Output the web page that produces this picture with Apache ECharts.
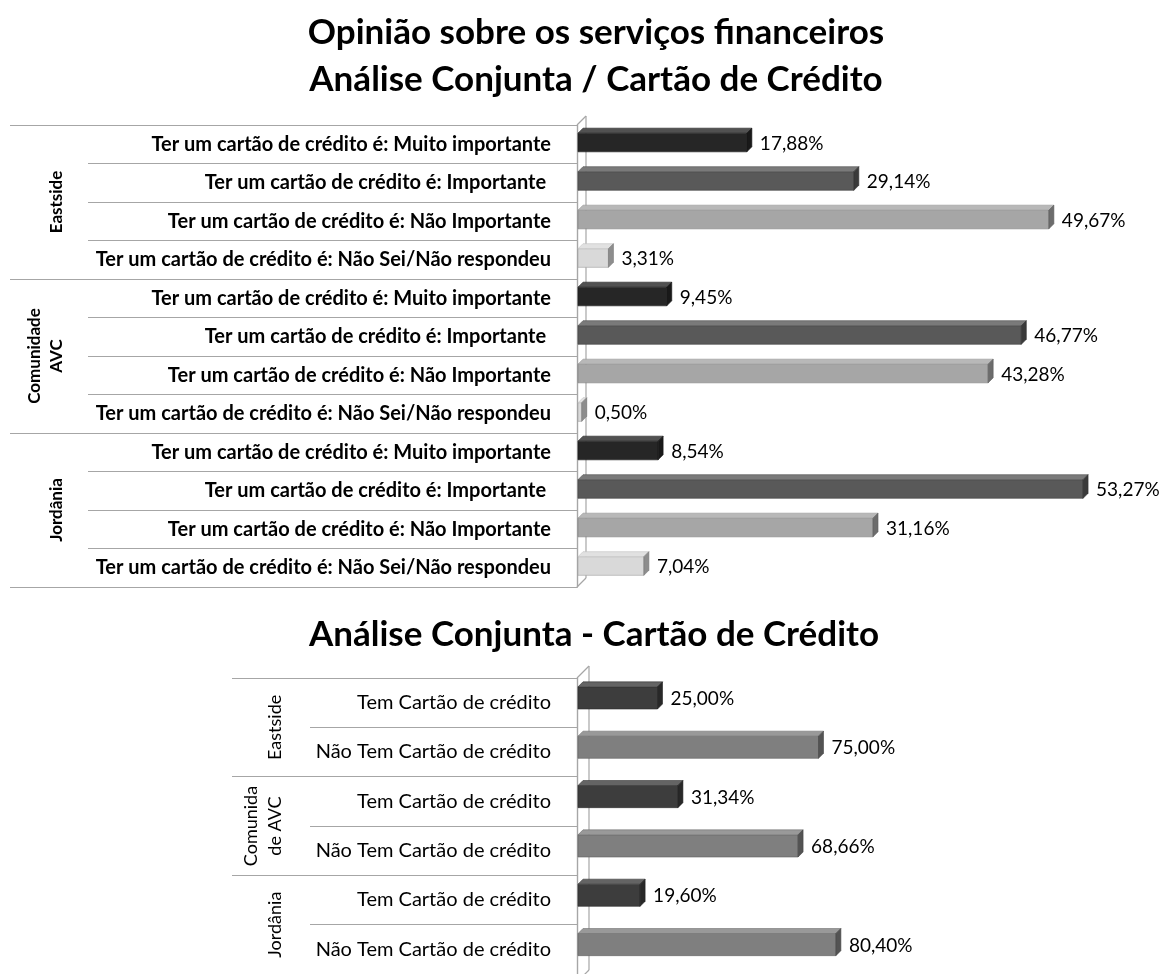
<!DOCTYPE html>
<html>
<head>
    <meta charset="utf-8">
    <title>Análise Conjunta - Cartão de Crédito</title>
    <script src="https://cdn.jsdelivr.net/npm/echarts@6/dist/echarts.min.js"></script>
    <style>
        html, body { margin: 0; padding: 0; background: #fff; }
        #chart1 { width: 1164px; height: 974px; }
    </style>
</head>
<body>
<div id="chart1"></div>
<script type="text/javascript">
    // dados do gráfico de cima
    var opinioes = ['Ter um cartão de crédito é: Muito importante', 'Ter um cartão de crédito é: Importante ',
        'Ter um cartão de crédito é: Não Importante', 'Ter um cartão de crédito é: Não Sei/Não respondeu'];
    var grupos = ['Eastside', 'Comunidade\nAVC', 'Jordânia'];
    var opiniaoValores = [17.88, 29.14, 49.67, 3.31, 9.45, 46.77, 43.28, 0.50, 8.54, 53.27, 31.16, 7.04];

    // dados do gráfico de baixo
    var posse = ['Tem Cartão de crédito', 'Não Tem Cartão de crédito'];
    var grupos2 = ['Eastside', 'Comunida\nde AVC', 'Jordânia'];
    var posseValores = [25.00, 75.00, 31.34, 68.66, 19.60, 80.40];

    var cores1 = ['#262626', '#595959', '#a6a6a6', '#d9d9d9'];
    var cores2 = ['#3d3d3d', '#7f7f7f'];

    var cat1 = [], cat2 = [];
    grupos.forEach(function () { cat1 = cat1.concat(opinioes); });
    grupos2.forEach(function () { cat2 = cat2.concat(posse); });

    function fmt(v) { return v.toFixed(2).replace('.', ',') + '%'; }

    function shade(hex, k) {
        var n = parseInt(hex.slice(1), 16);
        var r = (n >> 16) & 255, g = (n >> 8) & 255, b = n & 255;
        function f(c) { return Math.max(0, Math.min(255, Math.round(k > 0 ? c + (255 - c) * k : c * (1 + k)))); }
        return 'rgb(' + f(r) + ',' + f(g) + ',' + f(b) + ')';
    }

    // barra "3D" estilo Excel
    function barra3d(cores, ratio, d, sobe) {
        return function (params, api) {
            var v = api.value(0), c = api.value(1);
            var p0 = api.coord([0, c]), p1 = api.coord([v, c]);
            var h = api.size([0, 1])[1] * ratio;
            var x0 = p0[0] + 1, x1 = Math.max(p1[0], x0 + 1);
            var yT = p0[1] - h / 2 + d / 2 - sobe, yB = yT + h - d / 2;
            var cor = cores[params.dataIndex % cores.length];
            return {
                type: 'group',
                children: [
                    { type: 'rect', shape: { x: x0, y: yT, width: x1 - x0, height: yB - yT },
                      style: { fill: cor, stroke: shade(cor, -0.25), lineWidth: 0.6 } },
                    { type: 'polygon', shape: { points: [[x0, yT], [x0 + d, yT - d], [x1 + d, yT - d], [x1, yT]] },
                      style: { fill: shade(cor, 0.2), stroke: shade(cor, -0.1), lineWidth: 0.6 } },
                    { type: 'polygon', shape: { points: [[x1, yT], [x1 + d, yT - d], [x1 + d, yB - d], [x1, yB]] },
                      style: { fill: shade(cor, -0.35), stroke: shade(cor, -0.45), lineWidth: 0.6 } },
                    { type: 'text', x: x1 + d + 8, y: (yT + yB) / 2 + 1,
                      style: { text: fmt(v), fill: '#000', font: '19px Lato', verticalAlign: 'middle' } }
                ]
            };
        };
    }

    var L = 577;
    var g1 = { top: 125, height: 462, width: 570 };
    var g2 = { top: 678, height: 304, width: 322 };

    function parede(top, height, d) {
        var s = { stroke: '#a6a6a6', lineWidth: 1.2 };
        return [
            { type: 'line', shape: { x1: L + d, y1: top - d, x2: L + d, y2: top + height - d }, style: s },
            { type: 'line', shape: { x1: L, y1: top, x2: L + d, y2: top - d }, style: s },
            { type: 'line', shape: { x1: L, y1: top + height, x2: L + d, y2: top + height - d }, style: s }
        ];
    }

    var eixoCat = function (grid, data, tick, margin, label) {
        return {
            type: 'category', gridIndex: grid, data: data, inverse: true, position: 'left',
            axisLine: { show: true, lineStyle: { color: '#a6a6a6', width: 1.2 } },
            axisTick: { show: true, interval: 0, length: tick, lineStyle: { color: '#a6a6a6', width: 1.2 } },
            axisLabel: Object.assign({ interval: 0, margin: margin, color: '#000', fontFamily: 'Lato' }, label)
        };
    };

    var myChart1 = echarts.init(document.getElementById('chart1'));
    myChart1.setOption({
        animation: false,
        backgroundColor: '#fff',
        title: [
            { text: 'Opinião sobre os serviços financeiros\nAnálise Conjunta / Cartão de Crédito',
              left: 591, top: 4, textAlign: 'center',
              textStyle: { fontFamily: 'Lato', fontWeight: 'bold', fontSize: 35, lineHeight: 47, color: '#000' } },
            { text: 'Análise Conjunta - Cartão de Crédito',
              left: 589, top: 612, textAlign: 'center',
              textStyle: { fontFamily: 'Lato', fontWeight: 'bold', fontSize: 35, color: '#000' } }
        ],
        grid: [
            { left: L, top: g1.top, width: g1.width, height: g1.height },
            { left: L, top: g2.top, width: g2.width, height: g2.height }
        ],
        xAxis: [
            { type: 'value', gridIndex: 0, min: 0, max: 60, show: false },
            { type: 'value', gridIndex: 1, min: 0, max: 100, show: false }
        ],
        yAxis: [
            eixoCat(0, cat1, 489, 26, { fontSize: 20, fontWeight: 'bold' }),
            eixoCat(0, grupos, 567, 509, { fontSize: 17, fontWeight: 'bold', rotate: 90, lineHeight: 22 }),
            eixoCat(1, cat2, 267, 26, { fontSize: 20 }),
            eixoCat(1, grupos2, 345, 290, { fontSize: 18, rotate: 90, lineHeight: 24 })
        ],
        series: [
            { type: 'custom', xAxisIndex: 0, yAxisIndex: 0, renderItem: barra3d(cores1, 0.55, 5, 3),
              data: opiniaoValores.map(function (v, i) { return [v, i]; }) },
            { type: 'custom', xAxisIndex: 1, yAxisIndex: 2, renderItem: barra3d(cores2, 0.5, 5, 6),
              data: posseValores.map(function (v, i) { return [v, i]; }) }
        ],
        graphic: parede(g1.top, g1.height, 9).concat(parede(g2.top, g2.height, 12))
    });
</script>
</body>
</html>
